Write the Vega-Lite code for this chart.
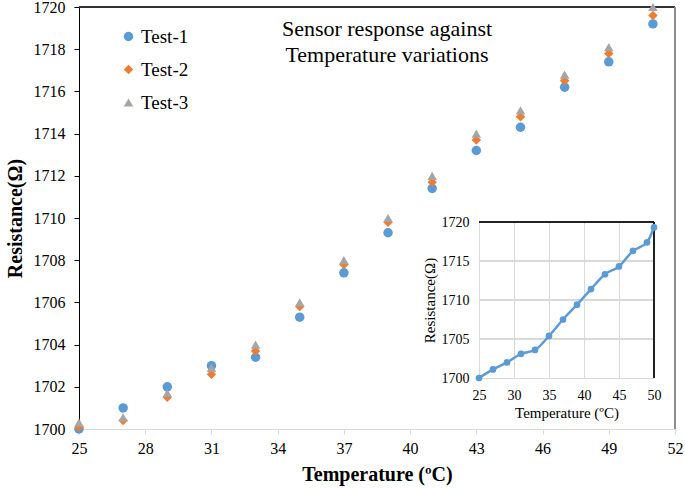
{
  "$schema": "https://vega.github.io/schema/vega-lite/v6.json",
  "width": 596,
  "height": 422,
  "autosize": "none",
  "padding": {"left": 79, "top": 7, "right": 10, "bottom": 59},
  "background": "white",
  "config": {
    "view": {"stroke": null},
    "font": "Liberation Serif",
    "axis": {"labelFont": "Liberation Serif", "titleFont": "Liberation Serif", "labelColor": "#000", "titleColor": "#000", "labelFlush": false},
    "legend": {"labelFont": "Liberation Serif"}
  },
  "title": {
    "text": ["Sensor response against", "Temperature variations"],
    "font": "Liberation Serif",
    "fontSize": 22,
    "fontWeight": "normal",
    "color": "#000",
    "anchor": "middle",
    "baseline": "bottom",
    "lineHeight": 26,
    "offset": -90,
    "dx": 10
  },
  "datasets": {
    "main": [
      {"T": 25, "R": 1700.0, "series": "Test-1"},
      {"T": 27, "R": 1701.0, "series": "Test-1"},
      {"T": 29, "R": 1702.0, "series": "Test-1"},
      {"T": 31, "R": 1703.0, "series": "Test-1"},
      {"T": 33, "R": 1703.4, "series": "Test-1"},
      {"T": 35, "R": 1705.3, "series": "Test-1"},
      {"T": 37, "R": 1707.4, "series": "Test-1"},
      {"T": 39, "R": 1709.3, "series": "Test-1"},
      {"T": 41, "R": 1711.4, "series": "Test-1"},
      {"T": 43, "R": 1713.2, "series": "Test-1"},
      {"T": 45, "R": 1714.3, "series": "Test-1"},
      {"T": 47, "R": 1716.2, "series": "Test-1"},
      {"T": 49, "R": 1717.4, "series": "Test-1"},
      {"T": 51, "R": 1719.2, "series": "Test-1"},
      {"T": 25, "R": 1700.1, "series": "Test-2"},
      {"T": 27, "R": 1700.4, "series": "Test-2"},
      {"T": 29, "R": 1701.5, "series": "Test-2"},
      {"T": 31, "R": 1702.6, "series": "Test-2"},
      {"T": 33, "R": 1703.7, "series": "Test-2"},
      {"T": 35, "R": 1705.8, "series": "Test-2"},
      {"T": 37, "R": 1707.8, "series": "Test-2"},
      {"T": 39, "R": 1709.8, "series": "Test-2"},
      {"T": 41, "R": 1711.7, "series": "Test-2"},
      {"T": 43, "R": 1713.7, "series": "Test-2"},
      {"T": 45, "R": 1714.8, "series": "Test-2"},
      {"T": 47, "R": 1716.5, "series": "Test-2"},
      {"T": 49, "R": 1717.8, "series": "Test-2"},
      {"T": 51, "R": 1719.6, "series": "Test-2"},
      {"T": 25, "R": 1700.3, "series": "Test-3"},
      {"T": 27, "R": 1700.55, "series": "Test-3"},
      {"T": 29, "R": 1701.7, "series": "Test-3"},
      {"T": 31, "R": 1702.9, "series": "Test-3"},
      {"T": 33, "R": 1704.0, "series": "Test-3"},
      {"T": 35, "R": 1706.0, "series": "Test-3"},
      {"T": 37, "R": 1708.0, "series": "Test-3"},
      {"T": 39, "R": 1710.0, "series": "Test-3"},
      {"T": 41, "R": 1712.0, "series": "Test-3"},
      {"T": 43, "R": 1714.0, "series": "Test-3"},
      {"T": 45, "R": 1715.1, "series": "Test-3"},
      {"T": 47, "R": 1716.8, "series": "Test-3"},
      {"T": 49, "R": 1718.1, "series": "Test-3"},
      {"T": 51, "R": 1720.0, "series": "Test-3"}
    ],
    "inset": [
      {"T": 25, "R": 1700.0},
      {"T": 27, "R": 1701.1},
      {"T": 29, "R": 1702.0},
      {"T": 31, "R": 1703.1},
      {"T": 33, "R": 1703.6},
      {"T": 35, "R": 1705.4},
      {"T": 37, "R": 1707.5},
      {"T": 39, "R": 1709.4},
      {"T": 41, "R": 1711.4},
      {"T": 43, "R": 1713.3},
      {"T": 45, "R": 1714.3},
      {"T": 47, "R": 1716.3},
      {"T": 49, "R": 1717.4},
      {"T": 50, "R": 1719.3}
    ]
  },
  "layer": [
    {
      "data": {"name": "main"},
      "layer": [
        {
          "mark": {"type": "rule", "color": "#333", "strokeWidth": 1},
          "encoding": {"y": {"datum": 1720, "type": "quantitative", "axis": null}}
        },
        {
          "mark": {"type": "rule", "color": "#8c8c8c", "strokeWidth": 1.5},
          "encoding": {"x": {"datum": 52, "type": "quantitative", "axis": null}}
        },
        {
          "mark": {"type": "point", "filled": true, "opacity": 1, "size": 90},
          "encoding": {
            "x": {
              "field": "T", "type": "quantitative",
              "scale": {"domain": [25, 52], "nice": false, "zero": false},
              "axis": {
                "values": [25, 28, 31, 34, 37, 40, 43, 46, 49, 52],
                "title": "Temperature (ºC)",
                "titleFontSize": 20, "titleFontWeight": "bold", "titlePadding": 8,
                "labelFontSize": 16, "labelPadding": 6,
                "domainColor": "#d9d9d9", "domainWidth": 1,
                "tickColor": "#d9d9d9", "tickSize": 5,
                "grid": false
              }
            },
            "y": {
              "field": "R", "type": "quantitative",
              "scale": {"domain": [1700, 1720], "nice": false, "zero": false},
              "axis": {
                "values": [1700, 1702, 1704, 1706, 1708, 1710, 1712, 1714, 1716, 1718, 1720],
                "format": "d",
                "title": "Resistance(Ω)",
                "titleFontSize": 20, "titleFontWeight": "bold", "titlePadding": 8,
                "labelFontSize": 16, "labelPadding": 9,
                "domainColor": "#000", "domainWidth": 1,
                "tickColor": "#000", "tickSize": 5,
                "grid": false
              }
            },
            "color": {
              "field": "series", "type": "nominal",
              "scale": {"domain": ["Test-1", "Test-2", "Test-3"], "range": ["#5B9BD5", "#ED7D31", "#A5A5A5"]},
              "legend": {
                "title": null, "orient": "none", "legendX": 40, "legendY": 20,
                "labelFontSize": 19, "symbolSize": 90, "rowPadding": 13, "labelOffset": 3
              }
            },
            "shape": {
              "field": "series", "type": "nominal",
              "scale": {"domain": ["Test-1", "Test-2", "Test-3"], "range": ["circle", "diamond", "triangle-up"]},
              "legend": {
                "title": null, "orient": "none", "legendX": 40, "legendY": 20,
                "labelFontSize": 19, "symbolSize": 90, "rowPadding": 13, "labelOffset": 3
              }
            }
          }
        }
      ],
      "resolve": {"axis": {"x": "independent", "y": "independent"}}
    },
    {
      "data": {"name": "inset"},
      "layer": [
        {
          "mark": {"type": "rule", "color": "#d9d9d9", "strokeWidth": 1},
          "encoding": {
            "x": {"datum": 25, "type": "quantitative", "axis": null},
            "x2": {"datum": 50},
            "y": {"datum": 1705, "type": "quantitative", "axis": null}
          }
        },
        {
          "mark": {"type": "rule", "color": "#d9d9d9", "strokeWidth": 1},
          "encoding": {
            "x": {"datum": 25, "type": "quantitative", "axis": null},
            "x2": {"datum": 50},
            "y": {"datum": 1710, "type": "quantitative", "axis": null}
          }
        },
        {
          "mark": {"type": "rule", "color": "#d9d9d9", "strokeWidth": 1},
          "encoding": {
            "x": {"datum": 25, "type": "quantitative", "axis": null},
            "x2": {"datum": 50},
            "y": {"datum": 1715, "type": "quantitative", "axis": null}
          }
        },
        {
          "mark": {"type": "rule", "color": "#222", "strokeWidth": 1.2},
          "encoding": {
            "x": {
              "datum": 25, "type": "quantitative",
              "axis": {"values": [30, 35, 40, 45], "grid": true, "gridColor": "#d9d9d9", "labels": false, "ticks": false, "domain": false, "title": null, "offset": 0}
            },
            "x2": {"datum": 50},
            "y": {"datum": 1720, "type": "quantitative", "axis": null}
          }
        },
        {
          "mark": {"type": "rule", "color": "#222", "strokeWidth": 1.2},
          "encoding": {
            "x": {"datum": 50, "type": "quantitative", "axis": null},
            "y": {"datum": 1700, "type": "quantitative", "axis": null},
            "y2": {"datum": 1720}
          }
        },
        {
          "mark": {"type": "line", "color": "#5B9BD5", "strokeWidth": 2.5, "interpolate": "monotone", "point": {"filled": true, "size": 45, "color": "#5B9BD5"}},
          "encoding": {
            "x": {
              "field": "T", "type": "quantitative",
              "scale": {"domain": [25, 50], "nice": false, "zero": false, "range": [400, 575]},
              "axis": {
                "orient": "bottom", "offset": -51,
                "values": [25, 30, 35, 40, 45, 50],
                "title": "Temperature (ºC)",
                "titleFontSize": 15, "titleFontWeight": "normal", "titlePadding": 3,
                "labelFontSize": 14, "labelPadding": 10,
                "domainColor": "#d9d9d9", "ticks": false,
                "grid": false
              }
            },
            "y": {
              "field": "R", "type": "quantitative",
              "scale": {"domain": [1700, 1720], "nice": false, "zero": false, "range": [371, 215]},
              "axis": {
                "orient": "left", "offset": -400,
                "values": [1700, 1705, 1710, 1715, 1720],
                "format": "d",
                "title": "Resistance(Ω)",
                "titleFontSize": 15, "titleFontWeight": "normal", "titlePadding": 4,
                "labelFontSize": 14, "labelPadding": 10,
                "domainColor": "#d9d9d9", "ticks": false,
                "grid": false
              }
            }
          }
        }
      ],
      "resolve": {"axis": {"x": "independent", "y": "independent"}}
    }
  ],
  "resolve": {
    "scale": {"x": "independent", "y": "independent"},
    "axis": {"x": "independent", "y": "independent"}
  }
}
